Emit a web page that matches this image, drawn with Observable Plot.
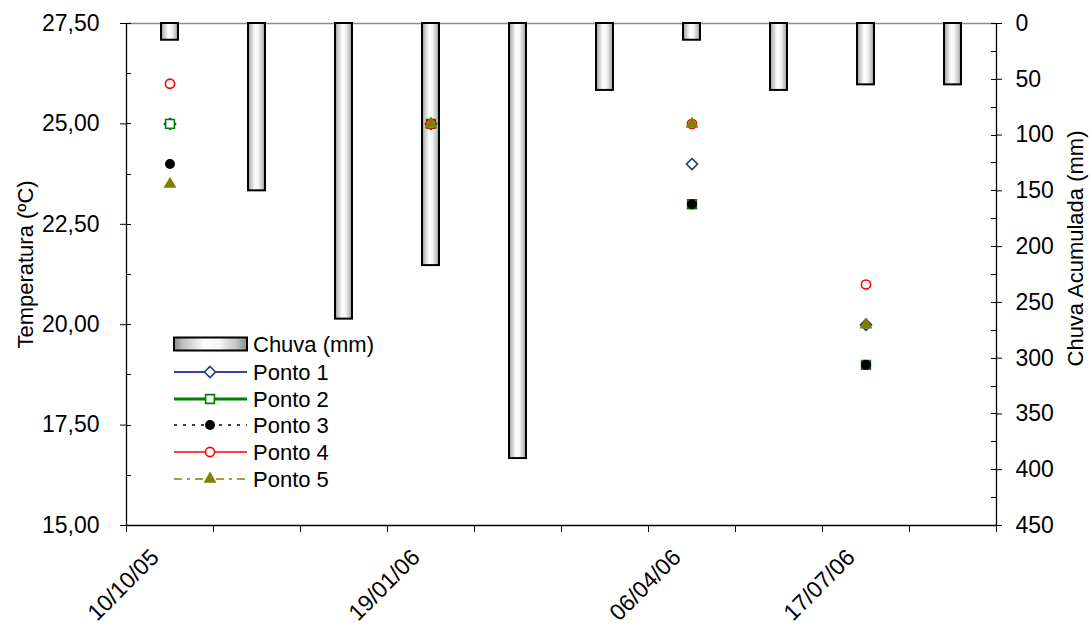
<!DOCTYPE html>
<html><head><meta charset="utf-8">
<script src="https://cdn.jsdelivr.net/npm/d3@7"></script>
<script src="https://cdn.jsdelivr.net/npm/@observablehq/plot@0.6"></script>
<style>
body{margin:0;background:#fff;}
#chart{width:1089px;height:625px;}
</style></head><body><div id="chart"></div>
<script>
// ---- data ----
const slots = [0,1,2,3,4,5,6,7,8,9];
const dateLabels = ["10/10/05","","","19/01/06","","","06/04/06","","17/07/06",""];
const rain = [15,150,265,217,390,60,15,60,55,55];
const ponto1 = [25,null,null,25,null,null,24,null,20,null];
const ponto2 = [25,null,null,25,null,null,23,null,19,null];
const ponto3 = [24,null,null,25,null,null,23,null,19,null];
const ponto4 = [26,null,null,25,null,null,25,null,21,null];
const ponto5 = [23.5,null,null,25,null,null,25,null,20,null];
const seriesNames = ["Ponto 1","Ponto 2","Ponto 3","Ponto 4","Ponto 5"];
const rainName = "Chuva (mm)";
const tempTicks = [15,17.5,20,22.5,25,27.5];
const tempMinor = [16.25,18.75,21.25,23.75,26.25];
const rainTicks = [0,50,100,150,200,250,300,350,400,450];
const rainMinor = [25,75,125,175,225,275,325,375,425];

// ---- helpers ----
const tMin = 15, tMax = 27.5, rMax = 450;
const toTemp = r => tMax - r * (tMax - tMin) / rMax;
const fromTemp = t => (tMax - t) * rMax / (tMax - tMin);
const fmtTemp = d => d3.format(".2f")(d).replace(".", ",");
const FONT = "'Liberation Sans', Arial, sans-serif";

const styles = [
  {line:"#000080", lw:1.5, dash:null, symbol:"diamond2", r:5, stroke:"#173f7a", fill:"white", sw:1.6},
  {line:"#008000", lw:3.2, dash:null, symbol:"square2", r:5.6, stroke:"#008000", fill:"white", sw:1.6},
  {line:"#000000", lw:1.5, dash:"3,6", symbol:"circle", r:5, stroke:"none", fill:"#000000", sw:0},
  {line:"#ff0000", lw:1.5, dash:null, symbol:"circle", r:4.6, stroke:"#ff0000", fill:"white", sw:1.6},
  {line:"#808000", lw:1.5, dash:"8,5,3,5", symbol:"triangle", r:4.8, stroke:"none", fill:"#808000", sw:0}
];
const seriesValues = [ponto1, ponto2, ponto3, ponto4, ponto5];
const series = seriesNames.map((name, k) => ({
  name, ...styles[k],
  points: seriesValues[k].map((v, i) => ({i: slots[i], v})).filter(d => d.v != null)
}));
const rainRows = rain.map((r, i) => ({i: slots[i], r}));
const labelRows = dateLabels.map((label, i) => ({i: slots[i], label})).filter(d => d.label);

// ---- custom render pieces ----
function defs() {
  const g = d3.create("svg:g");
  const gr = g.append("defs").append("linearGradient").attr("id","chuvaGrad")
    .attr("x1","0").attr("x2","1").attr("y1","0").attr("y2","0");
  [[0,"#8a8a8a"],[0.12,"#bdbdbd"],[0.42,"#ffffff"],[0.62,"#f4f4f4"],[0.85,"#c4c4c4"],[1,"#8c8c8c"]]
    .forEach(([o,c]) => gr.append("stop").attr("offset", o).attr("stop-color", c));
  return g.node();
}
function innerTicks(index, scales) {
  const g = d3.create("svg:g").attr("stroke","black").attr("stroke-width",1);
  const xl = scales.x(0), xr = scales.x(10);
  for (const t of tempTicks.concat(tempMinor)) {
    const y = Math.round(scales.y(t)) + 0.5;
    g.append("line").attr("x1", xl).attr("x2", xl + 5).attr("y1", y).attr("y2", y);
  }
  for (const r of rainTicks.concat(rainMinor)) {
    const y = Math.round(scales.y(toTemp(r))) + 0.5;
    g.append("line").attr("x1", xr - 5).attr("x2", xr).attr("y1", y).attr("y2", y);
  }
  return g.node();
}
function legend() {
  const g = d3.create("svg:g")
    .attr("font-family", FONT).attr("font-size", 22).attr("fill", "black").attr("text-anchor", "start");
  const x0 = 174, x1 = 247, xm = 210, tx = 253;
  const rows = [344, 372, 399, 425, 452, 479];
  g.append("rect").attr("x", x0).attr("y", rows[0] - 6.5).attr("width", x1 - x0).attr("height", 13)
    .attr("fill", "url(#chuvaGrad)").attr("stroke", "black").attr("stroke-width", 2);
  g.append("text").attr("x", tx).attr("y", rows[0]).attr("dy", "0.36em").attr("text-anchor", "start").text(rainName);
  const symMap = {diamond2: d3.symbolDiamond2, square2: d3.symbolSquare2, circle: d3.symbolCircle, triangle: d3.symbolTriangle};
  series.forEach((s, k) => {
    const y = rows[k + 1];
    const ln = g.append("line").attr("x1", x0).attr("x2", x1).attr("y1", y).attr("y2", y)
      .attr("stroke", s.line).attr("stroke-width", s.lw);
    if (s.dash) ln.attr("stroke-dasharray", s.dash);
    g.append("path").attr("transform", `translate(${xm},${y})`)
      .attr("d", d3.symbol(symMap[s.symbol], Math.PI * s.r * s.r)())
      .attr("fill", s.fill).attr("stroke", s.stroke).attr("stroke-width", s.sw);
    g.append("text").attr("x", tx).attr("y", y).attr("dy", "0.36em").attr("text-anchor", "start").text(s.name);
  });
  return g.node();
}

const chart = Plot.plot({
  width: 1089, height: 625,
  marginLeft: 126, marginRight: 93, marginTop: 23, marginBottom: 100,
  x: {type: "linear", domain: [0, 10]},
  y: {domain: [tMin, tMax]},
  style: {fontFamily: FONT, fontSize: "22px", background: "white", color: "black", overflow: "visible"},
  marks: [
    defs,
    Plot.ruleY([tMax], {stroke: "#8c8c8c", strokeWidth: 1.5}),
    Plot.rect(rainRows, {x1: "i", x2: d => d.i + 1, y1: () => tMax, y2: d => toTemp(d.r),
      insetLeft: 35, insetRight: 35, fill: "url(#chuvaGrad)", stroke: "black", strokeWidth: 2}),
    Plot.ruleX([0], {stroke: "black", strokeWidth: 1.3}),
    Plot.ruleX([10], {stroke: "black", strokeWidth: 1.3}),
    Plot.ruleY([tMin], {stroke: "black", strokeWidth: 1.5}),
    innerTicks,
    Plot.axisY(tempTicks, {anchor: "left", tickSize: 6, tickPadding: 21, tickFormat: fmtTemp, label: null, fontSize: 23}),
    Plot.axisY(rainTicks.map(toTemp), {anchor: "right", tickSize: 5, tickPadding: 14,
      tickFormat: t => String(Math.round(fromTemp(t))), label: null, fontSize: 23}),
    Plot.axisX(d3.range(11), {anchor: "bottom", tickSize: 7, tickFormat: () => "", label: null}),
    Plot.text(labelRows, {x: d => d.i + 0.5, text: "label", frameAnchor: "bottom", rotate: -45,
      textAnchor: "end", lineAnchor: "middle", dx: -15, dy: 28, fontSize: 23}),
    Plot.text(["Temperatura (ºC)"], {frameAnchor: "left", rotate: -90, textAnchor: "middle", lineAnchor: "middle",
      dx: -101, dy: -10, fontSize: 22}),
    Plot.text(["Chuva Acumulada (mm)"], {frameAnchor: "right", rotate: -90, textAnchor: "middle", lineAnchor: "middle",
      dx: 79, dy: -26, fontSize: 22}),
    ...series.map(s => Plot.dot(s.points, {x: d => d.i + 0.5, y: "v", symbol: s.symbol, r: s.r,
      fill: s.fill, stroke: s.stroke, strokeWidth: s.sw})),
    legend
  ]
});
document.getElementById("chart").append(chart);
</script></body></html>
